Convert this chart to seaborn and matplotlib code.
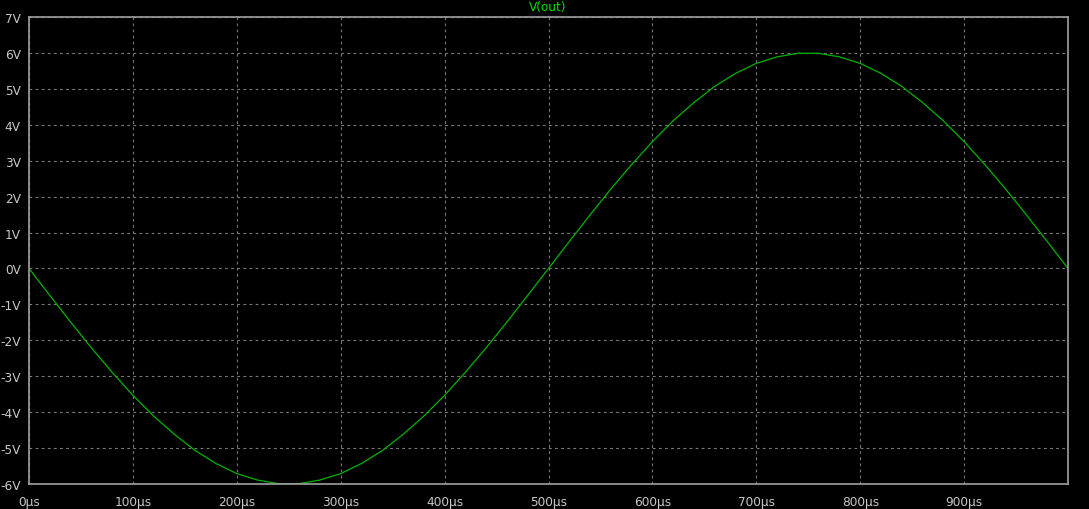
import matplotlib
matplotlib.use("Agg")
import matplotlib.pyplot as plt
import seaborn as sns
import pandas as pd

# time in microseconds (V)
time_us = [0, 20, 40, 60, 80, 100, 120, 140, 160, 180, 200, 220, 240, 260, 280,
           300, 320, 340, 360, 380, 400, 420, 440, 460, 480, 500, 520, 540, 560,
           580, 600, 620, 640, 660, 680, 700, 720, 740, 760, 780, 800, 820, 840,
           860, 880, 900, 920, 940, 960, 980, 1000]
v_out = [0.0, -0.75, -1.49, -2.21, -2.89, -3.53, -4.11, -4.62, -5.07, -5.43, -5.71,
         -5.89, -5.99, -5.99, -5.89, -5.71, -5.43, -5.07, -4.62, -4.11, -3.53,
         -2.89, -2.21, -1.49, -0.75, 0.0, 0.75, 1.49, 2.21, 2.89, 3.53, 4.11, 4.62,
         5.07, 5.43, 5.71, 5.89, 5.99, 5.99, 5.89, 5.71, 5.43, 5.07, 4.62, 4.11,
         3.53, 2.89, 2.21, 1.49, 0.75, 0.0]

x_ticks = [0, 100, 200, 300, 400, 500, 600, 700, 800, 900]
x_tick_labels = ["0µs", "100µs", "200µs", "300µs", "400µs", "500µs", "600µs",
                 "700µs", "800µs", "900µs"]
y_ticks = list(range(-6, 8))
y_tick_labels = [f"{v}V" for v in y_ticks]
title = "V(out)"

df = pd.DataFrame({"t": time_us, "v": v_out})

sns.set_style("dark")
plt.rcParams['font.family'] = ['DejaVu Sans']

fig = plt.figure(figsize=(10.89, 5.10), dpi=100, facecolor="black")
ax = fig.add_axes([29 / 1089, 1 - 485 / 510, (1068 - 29) / 1089, (485 - 18) / 510])
ax.set_facecolor("black")

sns.lineplot(data=df, x="t", y="v", ax=ax, color="#00b400", linewidth=0.9)

ax.set_xlim(0, 1000)
ax.set_ylim(-6, 7)
ax.set_xticks(x_ticks)
ax.set_xticklabels(x_tick_labels)
ax.set_yticks(y_ticks)
ax.set_yticklabels(y_tick_labels)
ax.set_xlabel("")
ax.set_ylabel("")

ax.grid(True, color="#7a7a7a", linestyle=(0, (2.5, 3)), linewidth=0.8)
for s in ax.spines.values():
    s.set_visible(True)
    s.set_color("#a0a0a0")
    s.set_linewidth(1.2)

ax.tick_params(axis="both", colors="#a0a0a0", labelcolor="#c8c8c8", labelsize=8.7,
               length=5.5, width=1, direction="out", pad=0.5)
ax.tick_params(axis="x", pad=2.5)

fig.text(548 / 1089, 1 - 8 / 510, title, color="#00e000", fontsize=8.7,
         ha="center", va="center")

fig.savefig("out.png", dpi=100, facecolor="black")
